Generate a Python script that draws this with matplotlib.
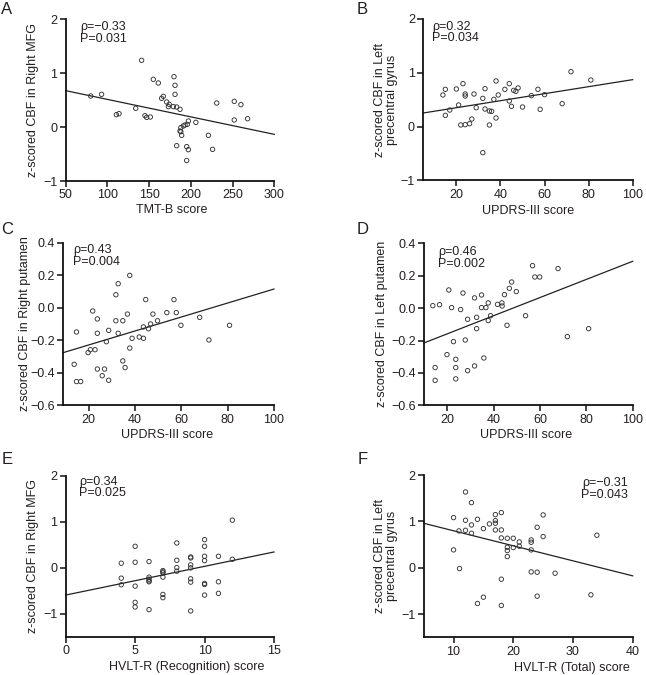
import matplotlib
matplotlib.use("Agg")
import matplotlib.pyplot as plt
import numpy as np

plt.rcParams['font.family'] = ['Liberation Sans', 'DejaVu Sans']
plt.rcParams['font.size'] = 8

TXT = '#231f20'

# ---------------- Data ----------------
# Panel A: TMT-B vs Right MFG
a_x = [80, 93, 110.7, 113.9, 133.9, 141, 145, 147, 151.4, 155, 161, 165, 167, 171, 173, 174,
       179, 179.8, 181, 181, 183, 187, 183, 188, 187, 188, 189, 191, 193, 195, 197, 195, 195.8,
       197, 206, 221, 226, 231, 252, 252, 260, 268]
a_y = [0.574, 0.605, 0.228, 0.247, 0.346, 1.235, 0.21, 0.179, 0.185, 0.883, 0.815, 0.531, 0.568,
       0.463, 0.377, 0.42, 0.377, 0.932, 0.772, 0.605, 0.37, 0.327, -0.346, -0.012, -0.074, -0.086,
       -0.154, 0.019, 0.037, -0.364, -0.42, -0.62, 0.049, 0.111, 0.086, -0.154, -0.414, 0.444,
       0.475, 0.13, 0.414, 0.154]
a_line_x = [50, 300]
a_line_y = [0.673, -0.136]

# Panel B: UPDRS-III vs Left precentral gyrus
b_x = [13.9, 15, 15, 17, 20, 21, 22, 23, 24, 24, 24, 26, 27, 28, 29, 32, 32, 33, 33, 35, 35, 36,
       37, 38, 38, 39, 42, 44, 44, 45, 46, 47, 48, 50, 54, 57, 58, 60, 68, 72, 81]
b_y = [0.587, 0.692, 0.208, 0.307, 0.698, 0.4, 0.029, 0.797, 0.605, 0.568, 0.035, 0.053, 0.14,
       0.605, 0.35, 0.524, -0.486, 0.704, 0.326, 0.289, 0.029, 0.283, 0.506, 0.847, 0.159, 0.587,
       0.692, 0.797, 0.475, 0.376, 0.673, 0.655, 0.717, 0.363, 0.574, 0.692, 0.32, 0.593, 0.425,
       1.02, 0.865]
b_line_x = [5, 100]
b_line_y = [0.252, 0.872]

# Panel C: UPDRS-III vs Right putamen
c_x = [13.7, 14.7, 14.7, 16.5, 19.7, 20.7, 21.7, 22.7, 23.7, 23.7, 23.7, 25.8, 26.8, 27.6, 28.6,
       28.6, 31.7, 31.7, 32.7, 32.7, 34.7, 34.7, 35.7, 36.7, 37.7, 37.7, 38.7, 41.8, 43.6, 43.6,
       44.6, 45.8, 46.7, 47.7, 49.7, 53.7, 56.8, 57.8, 59.8, 67.9, 71.9, 80.8]
c_y = [-0.348, -0.149, -0.454, -0.454, -0.276, -0.258, -0.02, -0.258, -0.069, -0.157, -0.377,
       -0.418, -0.377, -0.209, -0.139, -0.446, 0.08, -0.08, 0.148, -0.157, -0.08, -0.327, -0.368,
       -0.039, 0.199, -0.248, -0.188, -0.18, -0.118, -0.188, 0.05, -0.129, -0.1, -0.039, -0.08,
       -0.03, 0.05, -0.03, -0.108, -0.059, -0.198, -0.108]
c_line_x = [9, 100]
c_line_y = [-0.276, 0.115]

# Panel D: UPDRS-III vs Left putamen
d_x = [13.8, 14.8, 14.8, 16.7, 19.9, 20.7, 21.9, 22.7, 23.7, 23.7, 23.7, 25.8, 26.8, 27.8, 28.8,
       28.8, 31.8, 31.8, 32.7, 32.7, 34.8, 34.8, 35.8, 36.7, 37.7, 37.7, 38.7, 41.7, 43.6, 43.7,
       44.7, 45.8, 46.8, 47.8, 49.8, 53.8, 56.8, 57.8, 59.9, 67.8, 71.8, 81]
d_y = [0.015, -0.367, -0.446, 0.021, -0.287, 0.112, 0.003, -0.207, -0.316, -0.367, -0.437, -0.009,
       0.093, -0.197, -0.069, -0.386, 0.063, -0.357, -0.057, -0.127, 0.081, 0.003, -0.308, 0.003,
       0.032, -0.077, -0.047, 0.023, 0.032, 0.013, 0.083, -0.106, 0.122, 0.161, 0.102, -0.047,
       0.262, 0.192, 0.192, 0.244, -0.176, -0.127]
d_line_x = [10, 100]
d_line_y = [-0.215, 0.289]

# Panel E: HVLT-R (Recognition) vs Right MFG
e_x = [4, 4, 4, 5, 5, 5, 5, 5, 6, 6, 6, 6, 6, 6, 7, 7, 7, 7, 7, 7, 8, 8, 8, 8,
       9, 9, 9, 9, 9, 9, 9, 10, 10, 10, 10, 10, 10, 10, 11, 11, 11, 12, 12]
e_y = [0.101, -0.223, -0.367, 0.468, 0.122, -0.396, -0.748, -0.849,
       0.137, -0.201, -0.245, -0.281, -0.302, -0.906,
       -0.058, -0.086, -0.108, -0.201, -0.576, -0.647,
       0.54, 0.165, 0.007, -0.072,
       0.237, 0.216, 0.065, 0.0, -0.237, -0.309, -0.935,
       0.612, 0.468, 0.252, 0.158, -0.338, -0.36, -0.59,
       0.252, -0.302, -0.554, 1.036, 0.187]
e_line_x = [0, 15]
e_line_y = [-0.59, 0.345]

# Panel F: HVLT-R (Total) vs Left precentral gyrus
f_x = [10, 10, 10.9, 11, 12, 12, 12, 13, 13, 13, 14, 14, 15, 15, 16, 17, 17, 17, 17, 18, 18, 18,
       18, 18, 19, 19, 19, 19, 20, 20, 21, 21, 23, 23, 23, 23, 24, 24, 24, 25, 25, 27, 33, 34]
f_y = [1.081, 0.385, 0.794, -0.017, 1.634, 1.024, 0.808, 1.404, 0.923, 0.744, 1.045, -0.771,
       0.844, -0.635, 0.945, 1.146, 1.017, 0.959, 0.815, 1.189, 0.815, 0.643, -0.247, -0.814,
       0.636, 0.442, 0.37, 0.241, 0.636, 0.435, 0.557, 0.464, 0.6, 0.55, 0.385, -0.089, 0.873,
       -0.096, -0.613, 1.139, 0.672, -0.118, -0.584, 0.701]
f_line_x = [5, 40]
f_line_y = [0.959, -0.175]

W, H = 646, 675
fig = plt.figure(figsize=(W / 100, H / 100), dpi=100)


def make_ax(left, right, top, bottom):
    return fig.add_axes([left / W, (H - bottom) / H, (right - left) / W, (bottom - top) / H])


def style(ax, x, y, lx, ly, xlim, ylim, xticks, yticks, xlabel, ylabel,
          xl_pos, yl_pos, stats, st_pos, st_ha='left'):
    ax.scatter(x, y, s=10, facecolors='none', edgecolors='#333333', linewidths=0.65,
               clip_on=False, zorder=3)
    ax.plot(lx, ly, color='#222222', lw=0.9, clip_on=False)
    ax.set_xlim(*xlim)
    ax.set_ylim(*ylim)
    ax.set_xticks(xticks)
    ax.set_yticks(yticks)
    for s in ['top', 'right']:
        ax.spines[s].set_visible(False)
    for s in ['left', 'bottom']:
        ax.spines[s].set_linewidth(1.3)
        ax.spines[s].set_color('#111111')
    ax.tick_params(direction='out', length=4, width=1.1, colors='#111111',
                   labelsize=9, labelcolor=TXT, pad=2)
    ax.set_xlabel(xlabel, fontsize=9, color=TXT)
    ax.set_ylabel(ylabel, fontsize=9, color=TXT, linespacing=1.0)
    ax.xaxis.set_label_coords(*xl_pos)
    ax.xaxis.label.set_va('center')
    ax.yaxis.set_label_coords(*yl_pos)
    ax.yaxis.label.set_va('center')
    ax.patch.set_alpha(0)
    ax.text(st_pos[0], st_pos[1], stats[0], transform=ax.transAxes, ha=st_ha, va='center',
            fontsize=9, color=TXT)
    ax.text(st_pos[0], st_pos[2], stats[1], transform=ax.transAxes, ha=st_ha, va='center',
            fontsize=9, color=TXT)


axA = make_ax(65.7, 274.3, 19, 181)
style(axA, a_x, a_y, a_line_x, a_line_y, (50, 300), (-1, 2), [50, 100, 150, 200, 250, 300],
      [-1, 0, 1, 2], 'TMT-B score', 'z-scored CBF in Right MFG',
      (0.51, -0.179), (-0.157, 0.5), ('ρ=−0.33', 'P=0.031'), (0.069, 0.952, 0.875))

axB = make_ax(423.3, 632.7, 19, 180.3)
style(axB, b_x, b_y, b_line_x, b_line_y, (5, 100), (-1, 2), [20, 40, 60, 80, 100],
      [-1, 0, 1, 2], 'UPDRS-III score', 'z-scored CBF in Left\nprecentral gyrus',
      (0.499, -0.19), (-0.178, 0.5), ('ρ=0.32', 'P=0.034'), (0.043, 0.952, 0.88))

axC = make_ax(63.3, 274, 242.7, 405.3)
style(axC, c_x, c_y, c_line_x, c_line_y, (9, 100), (-0.6, 0.4), [20, 40, 60, 80, 100],
      [-0.6, -0.4, -0.2, 0.0, 0.2, 0.4], 'UPDRS-III score', 'z-scored CBF in Right putamen',
      (0.492, -0.183), (-0.182, 0.5), ('ρ=0.43', 'P=0.004'), (0.045, 0.955, 0.883))

axD = make_ax(424, 632.7, 243.3, 405.3)
style(axD, d_x, d_y, d_line_x, d_line_y, (10, 100), (-0.6, 0.4), [20, 40, 60, 80, 100],
      [-0.6, -0.4, -0.2, 0.0, 0.2, 0.4], 'UPDRS-III score', 'z-scored CBF in Left putamen',
      (0.487, -0.183), (-0.203, 0.5), ('ρ=0.46', 'P=0.002'), (0.069, 0.949, 0.871))

axE = make_ax(65.7, 274, 475.7, 637)
style(axE, e_x, e_y, e_line_x, e_line_y, (0, 15), (-1.5, 2), [0, 5, 10, 15],
      [-1, 0, 1, 2], 'HVLT-R (Recognition) score', 'z-scored CBF in Right MFG',
      (0.582, -0.186), (-0.157, 0.5), ('ρ=0.34', 'P=0.025'), (0.064, 0.963, 0.891))

axF = make_ax(423.7, 632.7, 475, 637.3)
style(axF, f_x, f_y, f_line_x, f_line_y, (5, 40), (-1.5, 2), [10, 20, 30, 40],
      [-1, 0, 1, 2], 'HVLT-R (Total) score', 'z-scored CBF in Left\nprecentral gyrus',
      (0.71, -0.188), (-0.18, 0.5), ('ρ=−0.31', 'P=0.043'), (0.979, 0.949, 0.877), st_ha='right')

# Panel letters
for lbl, px, py in [('A', 7, 9), ('B', 362, 9), ('C', 7, 229), ('D', 363, 229),
                    ('E', 7, 460), ('F', 363, 460)]:
    fig.text(px / W, 1 - py / H, lbl, fontsize=12, ha='center', va='center', color=TXT)

fig.savefig('out.png', dpi=100)
